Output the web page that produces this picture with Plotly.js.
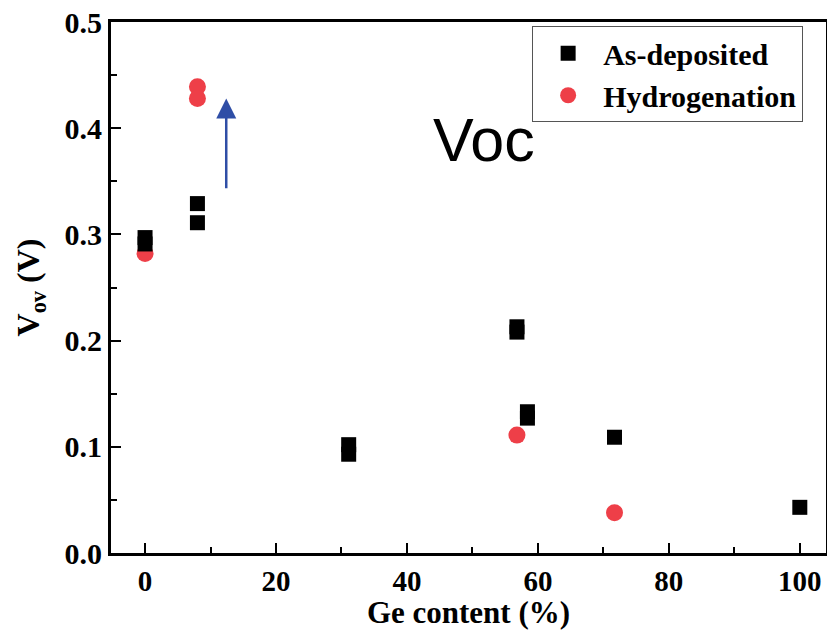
<!DOCTYPE html>
<html>
<head>
<meta charset="utf-8">
<script src="https://cdn.plot.ly/plotly-3.0.1.min.js"></script>
<style>html,body{margin:0;padding:0;background:#fff;}#chart{width:827px;height:630px;}</style>
</head>
<body>
<div id="chart"></div>
<script>
const asDepX = [0, 0, 8, 8, 31.1, 31.1, 56.8, 56.8, 58.4, 58.4, 71.7, 100];
const asDepY = [0.297, 0.291, 0.329, 0.311, 0.102, 0.093, 0.213, 0.208, 0.133, 0.127, 0.109, 0.043];
const hydX = [0, 8, 8, 56.8, 71.7];
const hydY = [0.282, 0.439, 0.428, 0.111, 0.038];
const arrowX = 12.4, arrowFromY = 0.342, arrowToY = 0.428;
const xTicks = [0, 20, 40, 60, 80, 100];
const yTicks = [0.0, 0.1, 0.2, 0.3, 0.4, 0.5];
const yTickText = ['0.0', '0.1', '0.2', '0.3', '0.4', '0.5'];

const serif = 'Liberation Serif, Times New Roman, serif';

const traces = [
  {
    x: hydX, y: hydY, type: 'scatter', mode: 'markers', name: 'Hydrogenation',
    legendrank: 2,
    marker: {symbol: 'circle', size: 17, color: '#ee3f48'}
  },
  {
    x: asDepX, y: asDepY, type: 'scatter', mode: 'markers', name: 'As-deposited',
    legendrank: 1,
    marker: {symbol: 'square', size: 15, color: '#000000'}
  }
];

const layout = {
  width: 827, height: 630,
  margin: {l: 111, r: 1, t: 22, b: 77},
  paper_bgcolor: '#fff', plot_bgcolor: '#fff',
  showlegend: true,
  legend: {
    x: 0.589, y: 0.992, xanchor: 'left', yanchor: 'top',
    bordercolor: '#555', borderwidth: 1, bgcolor: '#fff',
    font: {family: serif, size: 30, color: '#000', weight: 'bold'},
    tracegroupgap: 0, itemwidth: 60
  },
  xaxis: {
    range: [-5.2, 104],
    tickvals: xTicks,
    ticks: 'inside', ticklen: 10, tickwidth: 2, tickcolor: '#000',
    minor: {dtick: 10, ticks: 'inside', ticklen: 6, tickwidth: 2, tickcolor: '#000'},
    showline: true, linewidth: 3, linecolor: '#000', mirror: true,
    showgrid: false, zeroline: false,
    tickfont: {family: serif, size: 29, color: '#000', weight: 'bold'},
    title: {text: 'Ge content (%)', font: {family: serif, size: 31, color: '#000', weight: 'bold'}, standoff: 0}
  },
  yaxis: {
    range: [0, 0.5],
    tickvals: yTicks, ticktext: yTickText,
    ticks: 'inside', ticklen: 10, tickwidth: 2, tickcolor: '#000',
    minor: {dtick: 0.05, ticks: 'inside', ticklen: 6, tickwidth: 2, tickcolor: '#000'},
    showline: true, linewidth: 3, linecolor: '#000', mirror: true,
    showgrid: false, zeroline: false,
    tickfont: {family: serif, size: 30, color: '#000', weight: 'bold'},
    title: {text: 'V<sub>ov</sub> (V)', font: {family: serif, size: 32, color: '#000', weight: 'bold'}, standoff: 16}
  },
  annotations: [
    {
      x: arrowX, y: arrowToY, ax: arrowX, ay: arrowFromY,
      xref: 'x', yref: 'y', axref: 'x', ayref: 'y',
      showarrow: true, arrowhead: 2, arrowsize: 1.6, arrowwidth: 2.5,
      arrowcolor: '#2f4ea6', text: ''
    },
    {
      x: 51.8, y: 0.389, xref: 'x', yref: 'y', showarrow: false,
      text: 'Voc', font: {family: 'Liberation Sans, Arial, sans-serif', size: 61, color: '#000'}
    }
  ]
};

Plotly.newPlot('chart', traces, layout, {displayModeBar: false, staticPlot: true});
</script>
</body>
</html>
